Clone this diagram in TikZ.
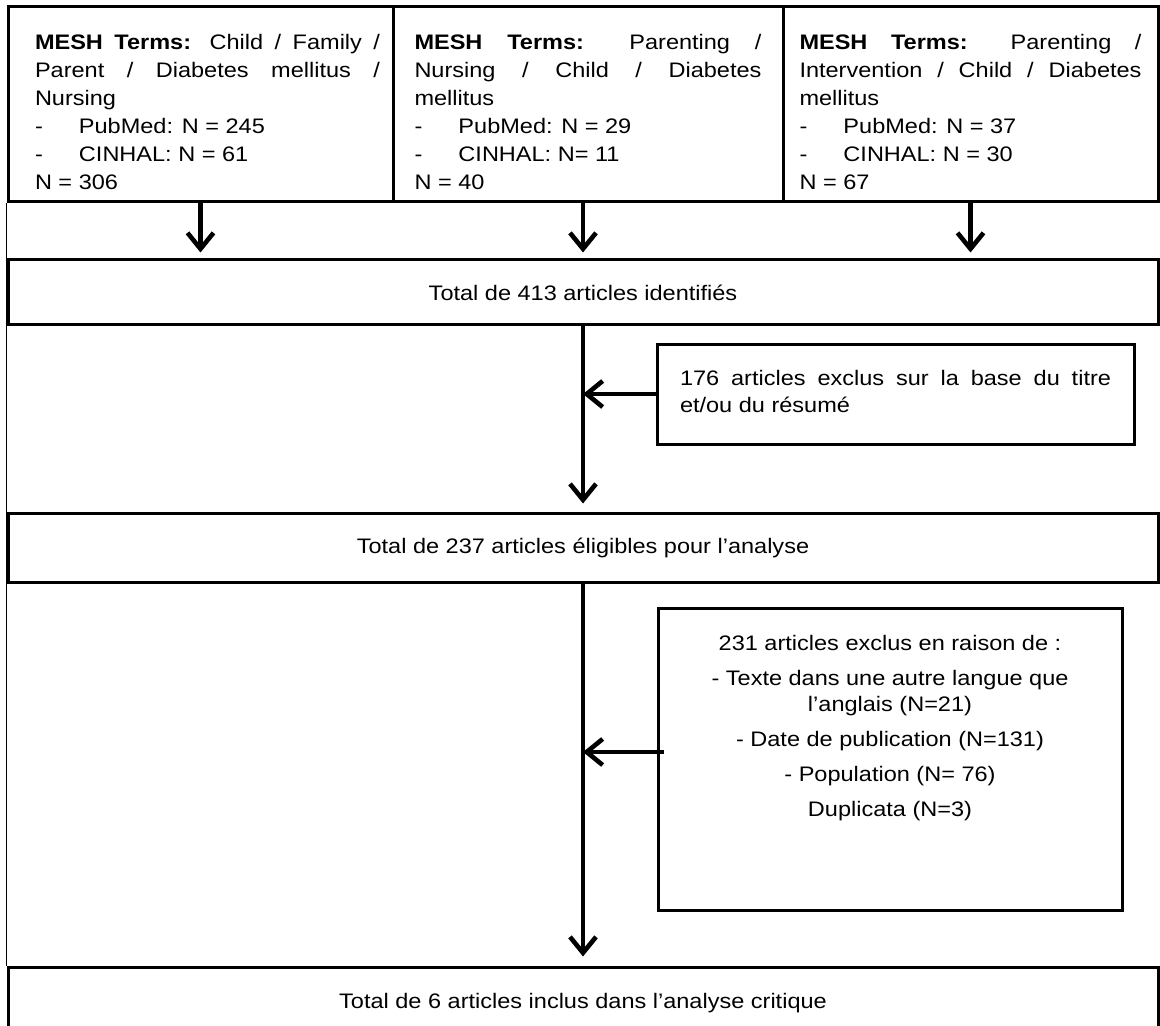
\documentclass[tikz,border=0pt]{standalone}
\usepackage{fontspec}
\setmainfont{Liberation Sans}[FakeStretch=1.12]
\usetikzlibrary{arrows.meta}
\tikzset{
  box/.style={draw, line width=1.5pt, rectangle, inner sep=0pt},
  wide/.style={box, minimum width=575pt},
  arr/.style={line width=2.3pt, -{Straight Barb[length=8pt,width=13pt]}},
  thin/.style={line width=0.8pt},
}
\newcommand{\dashitem}{\makebox[22pt][l]{-}}
\begin{document}
\begin{tikzpicture}[x=0.5pt, y=-0.5pt, font=\fontsize{10.5}{14}\selectfont]
\useasboundingbox (0,0) rectangle (1160,1026);
\clip (0,0) rectangle (1160,1026);
\hyphenpenalty=10000
% top boxes
\node[box, minimum width=192.5pt] (b1) at (200.5,104.5)
  {\hspace*{7pt}\parbox[c][97.5pt][t]{172.5pt}{\rule{0pt}{21.5pt}\textbf{MESH Terms:} Child / Family /\linebreak Parent / Diabetes mellitus /\linebreak Nursing\par
  \dashitem PubMed: N = 245\par
  \dashitem CINHAL: N = 61\par
  N = 306}};
\node[box, minimum width=195pt] (b2) at (588,104.5)
  {\parbox[c][97.5pt][t]{173.5pt}{\rule{0pt}{21.5pt}\textbf{MESH Terms:} Parenting /\linebreak Nursing / Child / Diabetes\linebreak mellitus\par
  \dashitem PubMed: N = 29\par
  \dashitem CINHAL: N= 11\par
  N = 40}};
\node[box, minimum width=187.5pt] (b3) at (970.5,104.5)
  {\parbox[c][97.5pt][t]{171pt}{\rule{0pt}{21.5pt}\textbf{MESH Terms:} Parenting /\linebreak Intervention / Child / Diabetes\linebreak mellitus\par
  \dashitem PubMed: N = 37\par
  \dashitem CINHAL: N = 30\par
  N = 67}};
% totals
\node[wide, minimum height=32.5pt] (t413) at (583,292.5) {Total de 413 articles identifiés};
\node[box, minimum width=238.5pt] (b176) at (895.5,394)
  {\parbox[c][50pt][t]{215.5pt}{\fontsize{10.5}{13.5}\selectfont\rule{0pt}{20.5pt}176 articles exclus sur la base du titre\linebreak et/ou du résumé}};
\node[wide, minimum height=34.5pt] (t237) at (583,547.5) {Total de 237 articles éligibles pour l’analyse};
\node[box, minimum width=232pt] (b231) at (890,759)
  {\parbox[c][151pt][t]{232pt}{\centering\fontsize{10.5}{13}\selectfont\rule{0pt}{21pt}231 articles exclus en raison de :\\[4.5pt]
  - Texte dans une autre langue que\\ l’anglais (N=21)\\[4.5pt]
  - Date de publication (N=131)\\[4.5pt]
  - Population (N= 76)\\[4.5pt]
  Duplicata (N=3)}};
\node[wide, minimum height=36pt] (t6) at (583,1003) {Total de 6 articles inclus dans l’analyse critique};
% connectors
\draw[thin] (b1.south west) -- (t6.north west);
\draw[arr, shorten >=3pt] (b1.south) -- (b1.south |- t413.north);
\draw[arr, shorten >=3pt] (t413.north |- b2.south) -- (t413.north);
\draw[arr, shorten >=3pt] (b3.south) -- (b3.south |- t413.north);
\draw[arr, shorten >=4pt] (t413.south) -- (t237.north);
\draw[arr] (b176.west) -- (b176.west -| t413.south);
\draw[arr, shorten >=4.5pt] (t237.south) -- (t6.north);
\coordinate (s2) at ([xshift=3.5pt,yshift=3.5pt]b231.west);
\draw[arr] (s2) -- (s2 -| t237.south);
\end{tikzpicture}
\end{document}
